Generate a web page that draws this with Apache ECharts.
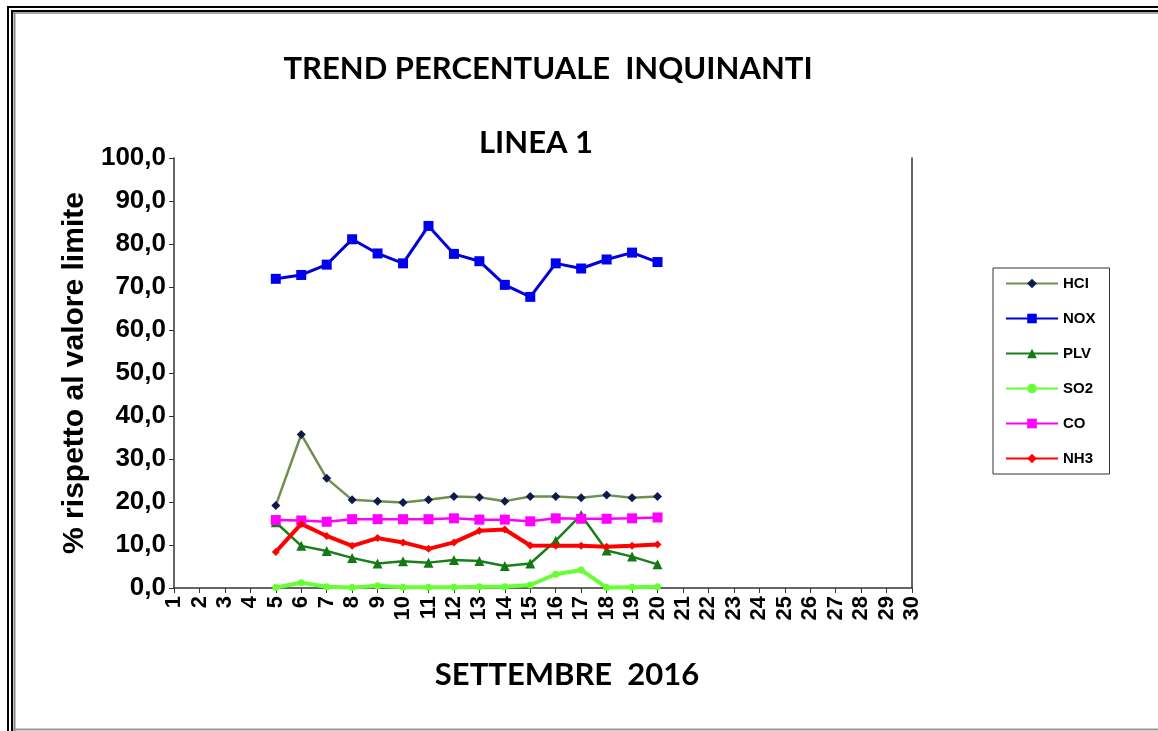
<!DOCTYPE html>
<html>
<head>
<meta charset="utf-8">
<script src="https://cdn.jsdelivr.net/npm/echarts@6/dist/echarts.min.js"></script>
<style>
html,body{margin:0;padding:0;background:#fff;}
#c{width:1158px;height:731px;}
</style>
</head>
<body>
<div id="c"></div>
<script>
var days = ['1','2','3','4','5','6','7','8','9','10','11','12','13','14','15','16','17','18','19','20','21','22','23','24','25','26','27','28','29','30'];
var yTicks = [0,10,20,30,40,50,60,70,80,90,100];
var hcl = [null,null,null,null,19.2,35.7,25.5,20.5,20.2,19.9,20.5,21.3,21.1,20.2,21.3,21.3,21.0,21.6,21.0,21.3,null,null,null,null,null,null,null,null,null,null];
var nox = [null,null,null,null,71.9,72.8,75.2,81.1,77.8,75.5,84.2,77.7,76.0,70.5,67.7,75.5,74.3,76.4,78.0,75.8,null,null,null,null,null,null,null,null,null,null];
var plv = [null,null,null,null,15.3,9.8,8.6,7.0,5.7,6.2,5.9,6.5,6.3,5.1,5.7,11.0,17.0,8.7,7.3,5.5,null,null,null,null,null,null,null,null,null,null];
var so2 = [null,null,null,null,0.1,1.2,0.3,0.1,0.5,0.2,0.2,0.2,0.3,0.3,0.7,3.2,4.2,0.1,0.2,0.3,null,null,null,null,null,null,null,null,null,null];
var co  = [null,null,null,null,15.8,15.7,15.4,16.0,16.0,16.0,16.0,16.2,15.9,15.9,15.5,16.2,16.1,16.1,16.2,16.4,null,null,null,null,null,null,null,null,null,null];
var nh3 = [null,null,null,null,8.4,14.9,12.1,9.8,11.6,10.6,9.1,10.6,13.3,13.6,9.9,9.8,9.8,9.6,9.8,10.1,null,null,null,null,null,null,null,null,null,null];
var seriesNames = ['HCI','NOX','PLV','SO2','CO','NH3'];

var chart = echarts.init(document.getElementById('c'), null, {renderer:'canvas'});
var ax = 'Liberation Sans';
function mk(name, data, lineColor, lw, sym, symSize, symColor){
  return {
    name: name, type: 'line', data: data, connectNulls: false,
    symbol: sym, symbolSize: symSize, showSymbol: true,
    lineStyle: {color: lineColor, width: lw},
    itemStyle: {color: symColor, borderWidth: 0},
    emphasis: {disabled: true},
    animation: false
  };
}
var option = {
  backgroundColor: '#fff',
  animation: false,
  title: [
    {text: 'TREND PERCENTUALE  INQUINANTI', left: 543, top: 48, textAlign: 'center',
     textStyle: {fontFamily: 'Lato', fontWeight: 'bold', fontSize: 31, color: '#000'}},
    {text: 'LINEA 1', left: 531, top: 122, textAlign: 'center',
     textStyle: {fontFamily: 'Lato', fontWeight: 'bold', fontSize: 31, color: '#000'}},
    {text: 'SETTEMBRE  2016', left: 562, top: 654, textAlign: 'center',
     textStyle: {fontFamily: 'Lato', fontWeight: 'bold', fontSize: 31, color: '#000'}}
  ],
  legend: {
    orient: 'vertical', left: 993, top: 268, width: 120,
    padding: [8, 14, 8, 12],
    borderColor: '#333', borderWidth: 1,
    itemWidth: 52, itemHeight: 12, itemGap: 20,
    textStyle: {fontFamily: ax, fontWeight: 'bold', fontSize: 15, color: '#000'},
    data: seriesNames
  },
  grid: {left: 174, right: 246, top: 158, bottom: 143, containLabel: false},
  xAxis: {
    type: 'category', data: days, boundaryGap: false,
    axisLine: {lineStyle: {color: '#333', width: 1.5}},
    axisTick: {show: true, alignWithLabel: true, length: 5, lineStyle: {color: '#333'}},
    axisLabel: {rotate: 90, interval: 0, margin: 8, fontFamily: ax, fontWeight: 'bold', fontSize: 22, color: '#000'},
    splitLine: {show: false}
  },
  yAxis: [{
    type: 'value', min: yTicks[0], max: yTicks[yTicks.length-1], interval: 10,
    name: '% rispetto al valore limite', nameLocation: 'middle', nameGap: 70, nameRotate: 90,
    nameTextStyle: {fontFamily: ax, fontWeight: 'bold', fontSize: 30, color: '#000'},
    axisLine: {show: true, lineStyle: {color: '#333', width: 1.5}},
    axisTick: {show: true, length: 5, lineStyle: {color: '#333'}},
    axisLabel: {formatter: function(v){return v.toFixed(1).replace('.', ',');}, margin: 8,
      fontFamily: ax, fontWeight: 'bold', fontSize: 26, color: '#000'},
    splitLine: {show: false}
  },{
    type: 'value', min: 0, max: 100, interval: 10, position: 'right',
    axisLine: {show: true, lineStyle: {color: '#333', width: 1.5}},
    axisTick: {show: false}, axisLabel: {show: false}, splitLine: {show: false}
  }],
  series: [
    mk('HCI', hcl, '#6f8f4c', 2.5, 'diamond', 9, '#0e1a4f'),
    mk('NOX', nox, '#0000d8', 3, 'rect', 10, '#0000f0'),
    mk('PLV', plv, '#1a7f1a', 2.5, 'triangle', 10, '#137a13'),
    mk('SO2', so2, '#66ff33', 4, 'circle', 7, '#66ff33'),
    mk('CO', co, '#ff00ff', 2.5, 'rect', 10, '#ff00ff'),
    mk('NH3', nh3, '#ff0000', 4, 'diamond', 8, '#ff0000')
  ],
  graphic: [
    {type: 'line', shape: {x1: 8, y1: 6, x2: 8, y2: 731}, style: {stroke: '#000', lineWidth: 2}, silent: true},
    {type: 'line', shape: {x1: 7, y1: 7, x2: 1158, y2: 7}, style: {stroke: '#000', lineWidth: 2}, silent: true},
    {type: 'line', shape: {x1: 12, y1: 11, x2: 12, y2: 731}, style: {stroke: '#000', lineWidth: 2}, silent: true},
    {type: 'line', shape: {x1: 14.5, y1: 13, x2: 14.5, y2: 731}, style: {stroke: '#888', lineWidth: 2}, silent: true},
    {type: 'line', shape: {x1: 11, y1: 11, x2: 1158, y2: 11}, style: {stroke: '#000', lineWidth: 2}, silent: true},
    {type: 'line', shape: {x1: 13, y1: 13, x2: 1158, y2: 13}, style: {stroke: '#888', lineWidth: 1.5}, silent: true},
    {type: 'line', shape: {x1: 13, y1: 729.5, x2: 1158, y2: 729.5}, style: {stroke: '#999', lineWidth: 2}, silent: true}
  ]
};
chart.setOption(option);
</script>
</body>
</html>
